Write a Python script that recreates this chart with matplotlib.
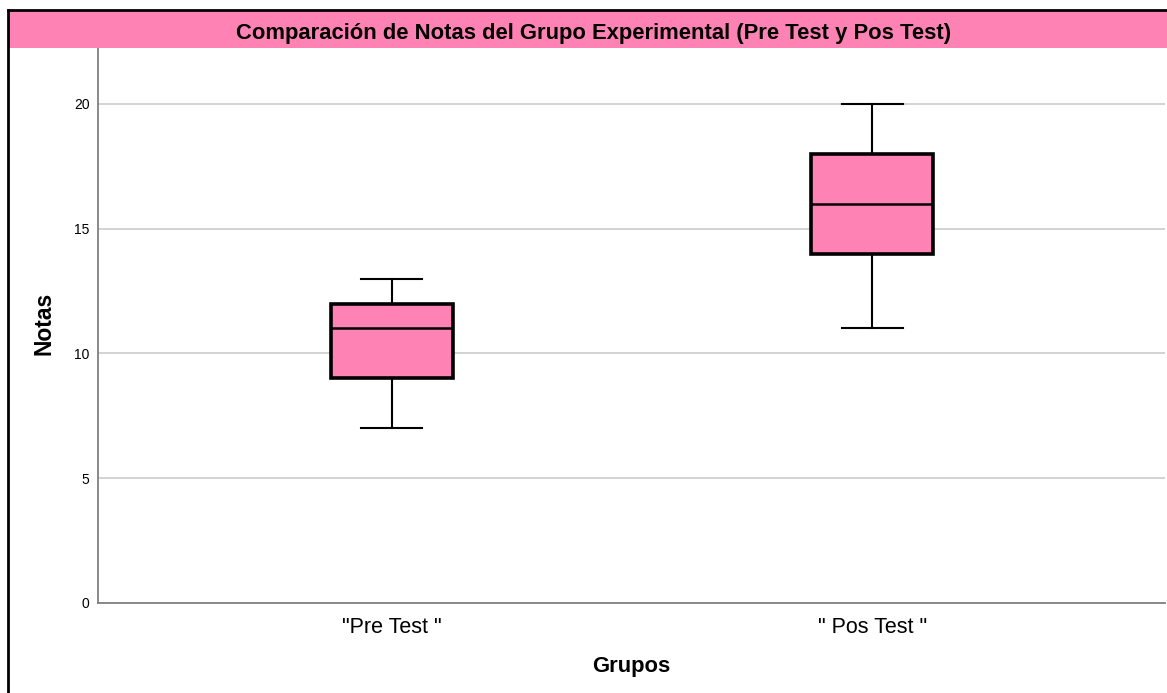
import matplotlib
matplotlib.use("Agg")
import matplotlib.pyplot as plt
from matplotlib.patches import Rectangle
from matplotlib.lines import Line2D

categories = ['"Pre Test "', '" Pos Test "']
whislo = [7, 11]
q1 = [9, 14]
med = [11, 16]
q3 = [12, 18]
whishi = [13, 20]
yticks = [0, 5, 10, 15, 20]

W, H = 1167, 693
fig = plt.figure(figsize=(W / 100, H / 100), dpi=100)
plt.rcParams['font.family'] = ['Liberation Sans', 'DejaVu Sans']

pink = '#FF82B4'

# title bar
fig.patches.append(Rectangle((9 / W, 1 - 48 / H), 1 - 9 / W, 38 / H,
                             transform=fig.transFigure, facecolor=pink,
                             edgecolor='none', zorder=0))
fig.lines.append(Line2D([8 / W, 8 / W], [0, 1 - 10 / H], transform=fig.transFigure,
                        color='black', lw=2))
fig.lines.append(Line2D([8 / W, 1], [1 - 10 / H, 1 - 10 / H], transform=fig.transFigure,
                        color='black', lw=2))
fig.text(594 / W, 1 - 33 / H, 'Comparación de Notas del Grupo Experimental (Pre Test y Pos Test)',
         ha='center', va='center', fontsize=15.8, fontweight='bold')

ax = fig.add_axes([98 / W, 1 - 603 / H, 1067 / W, 555 / H])
stats = []
for i, c in enumerate(categories):
    stats.append(dict(label=c, whislo=whislo[i], q1=q1[i], med=med[i], q3=q3[i],
                      whishi=whishi[i], fliers=[]))
positions = list(range(len(categories)))
ax.bxp(stats, positions=positions, widths=0.254, patch_artist=True, showfliers=False,
       boxprops=dict(facecolor=pink, edgecolor='black', linewidth=2.6),
       medianprops=dict(color='black', linewidth=1.8),
       whiskerprops=dict(color='black', linewidth=1.5),
       capprops=dict(color='black', linewidth=1.5), capwidths=0.127, zorder=3)

ax.set_xlim(-0.612, 1.61)
ax.set_ylim(0, 22.24)
ax.set_yticks(yticks)
ax.set_yticklabels([str(t) for t in yticks], fontsize=10)
ax.set_xticks(positions)
ax.set_xticklabels(categories, fontsize=15.5)
ax.grid(axis='y', color='#cccccc', linewidth=1.2, zorder=0)
ax.set_axisbelow(True)
for s in ['top', 'right']:
    ax.spines[s].set_visible(False)
for s in ['left', 'bottom']:
    ax.spines[s].set_color('#808080')
    ax.spines[s].set_linewidth(1.3)
ax.tick_params(axis='y', length=0, pad=6)
ax.tick_params(axis='x', length=0, pad=10)
fig.text(44.5 / W, 1 - 323 / H, 'Notas', rotation=90, ha='center', va='center',
         fontsize=16.5, fontweight='bold')
ax.set_xlabel('Grupos', fontsize=15.8, fontweight='bold', labelpad=13)

fig.savefig('out.png', dpi=100, facecolor='white')
